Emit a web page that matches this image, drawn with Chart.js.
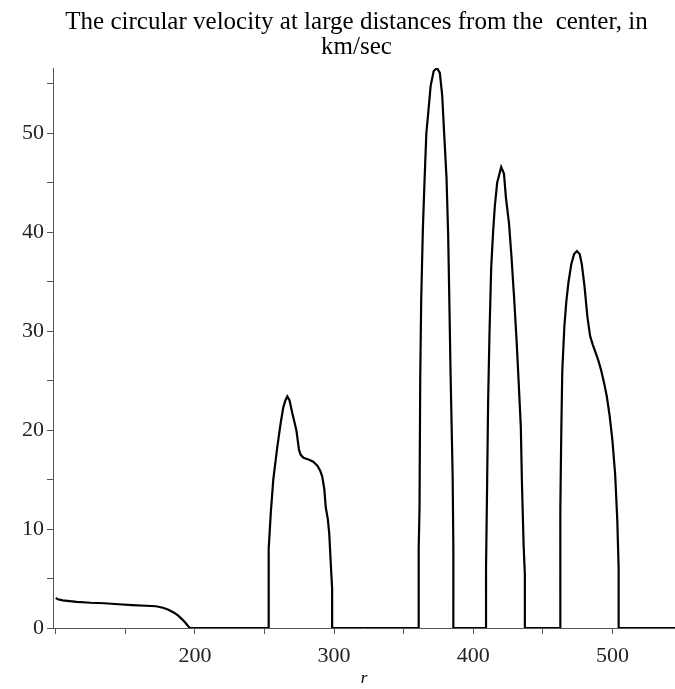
<!DOCTYPE html>
<html>
<head>
<meta charset="utf-8">
<script src="https://cdn.jsdelivr.net/npm/chart.js@4/dist/chart.umd.min.js"></script>
<style>
  html, body { margin: 0; padding: 0; background: #ffffff; }
  #wrap { width: 675px; height: 689px; }
</style>
</head>
<body>
<div id="wrap"><canvas id="c" width="675" height="689"></canvas></div>
<script>
// Distance r (x) and circular velocity in km/sec (y)
const rValues = [
  100, 101.5, 105, 115, 125, 135, 145, 155, 165, 172, 177, 181, 185, 188, 191, 193, 195, 196.5,
  253, 253, 254.5, 256.3, 259.2, 261.6, 263.5, 265, 266.4, 268, 270, 272.9, 274.8, 276, 278, 280, 282, 285, 288, 290, 291.5, 293, 294, 295.5, 296.5, 298, 298.6, 298.6,
  360.8, 360.8, 361.4, 361.9, 362.6, 363.8, 365, 366.3, 368, 369.4, 371.6, 374, 376, 377.7, 379.1, 380.8, 382, 382.8, 383.7, 384.5, 385.2, 385.7, 385.7,
  409.2, 409.2, 410, 410.7, 411.7, 412.9, 414.3, 415.5, 417.2, 420.1, 422.1, 423.5, 425.7, 427.4, 429.4, 431.1, 432.5, 434.2, 435, 436.2, 437.1, 437.1,
  462.6, 462.6, 463.3, 464, 465.5, 466.9, 468.5, 470.5, 472.5, 474.5, 476.5, 478, 480, 482, 484, 486, 488, 490, 492, 494, 496, 498, 500, 502, 503.5, 504.5, 504.5,
  545
];
const velocityValues = [
  3.05, 2.9, 2.8, 2.65, 2.55, 2.5, 2.4, 2.32, 2.25, 2.2, 2.05, 1.85, 1.55, 1.25, 0.85, 0.55, 0.2, 0,
  0, 8, 11.6, 15, 18.3, 20.7, 22.3, 23.0, 23.4, 23.0, 21.7, 20, 18, 17.5, 17.2, 17.1, 17.0, 16.8, 16.4, 15.9, 15.3, 14, 12.2, 11, 9.6, 5.5, 4, 0,
  0, 8, 12.1, 25.1, 33.1, 40.3, 45.2, 50, 52.6, 54.8, 56.3, 56.6, 56.1, 53.8, 50, 45.5, 39.6, 33.3, 25.8, 20.3, 15.4, 8.4, 0,
  0, 6.1, 14.7, 22.9, 29.9, 36.4, 40.1, 42.6, 45, 46.6, 45.9, 43.5, 40.9, 37.7, 33.3, 29.2, 25.3, 20.3, 14.7, 8.4, 5.4, 0,
  0, 12, 20, 26, 30.5, 33, 35, 36.8, 37.8, 38.1, 37.8, 36.8, 34.5, 31.5, 29.5, 28.6, 27.8, 27, 26, 24.8, 23.4, 21.5, 19, 15.5, 11, 6, 0,
  0
];
const xTickValues = [100, 150, 200, 250, 300, 350, 400, 450, 500];
const xTickLabels = ['', '', '200', '', '300', '', '400', '', '500'];
const yTickValues = [0, 5, 10, 15, 20, 25, 30, 35, 40, 45, 50, 55];
const yTickLabels = ['0', '', '10', '', '20', '', '30', '', '40', '', '50', ''];
const titleLines = ['The circular velocity at large distances from the  center, in', 'km/sec'];
const xAxisTitle = 'r';

const points = rValues.map((r, i) => ({ x: r, y: velocityValues[i] }));
const serif = "'Liberation Serif', 'Times New Roman', serif";

// centre the title block a little to the right, over the plot region
const titleShift = {
  id: 'titleShift',
  afterLayout(chart) {
    if (chart.titleBlock) { chart.titleBlock.left = 38; }
  }
};

new Chart(document.getElementById('c'), {
  type: 'line',
  data: {
    datasets: [{
      data: points,
      borderColor: '#000000',
      borderWidth: 2.2,
      pointRadius: 0,
      tension: 0,
      fill: false
    }]
  },
  plugins: [titleShift],
  options: {
    responsive: false,
    animation: false,
    layout: { padding: { left: 0, right: 0, top: 0, bottom: 0 } },
    plugins: {
      legend: { display: false },
      tooltip: { enabled: false },
      title: {
        display: true,
        text: titleLines,
        color: '#000000',
        font: { family: serif, size: 25, weight: 'normal', lineHeight: 1.0 },
        padding: { top: 10, bottom: 8 }
      }
    },
    scales: {
      x: {
        type: 'linear',
        min: 98,
        max: 545,
        afterBuildTicks: (s) => { s.ticks = xTickValues.map(v => ({ value: v })); },
        afterFit: (s) => { s.height = 61; },
        ticks: {
          autoSkip: false,
          maxRotation: 0,
          padding: 9,
          color: '#222222',
          font: { family: serif, size: 22 },
          callback: (v) => { const i = xTickValues.indexOf(v); return i >= 0 ? xTickLabels[i] : ''; }
        },
        grid: { drawOnChartArea: false, drawTicks: true, tickLength: 6, color: '#555555' },
        border: { display: true, color: '#555555', width: 1 },
        title: {
          display: true,
          text: xAxisTitle,
          color: '#000000',
          font: { family: serif, size: 17, style: 'italic' },
          padding: { top: 0, bottom: 0 }
        }
      },
      y: {
        type: 'linear',
        min: 0,
        max: 56.6,
        afterBuildTicks: (s) => { s.ticks = yTickValues.map(v => ({ value: v })); },
        afterFit: (s) => { s.width = 53; },
        ticks: {
          autoSkip: false,
          padding: 3,
          color: '#222222',
          font: { family: serif, size: 22 },
          callback: (v) => { const i = yTickValues.indexOf(v); return i >= 0 ? yTickLabels[i] : ''; }
        },
        grid: { drawOnChartArea: false, drawTicks: true, tickLength: 6, color: '#555555' },
        border: { display: true, color: '#555555', width: 1 }
      }
    }
  }
});
</script>
</body>
</html>
